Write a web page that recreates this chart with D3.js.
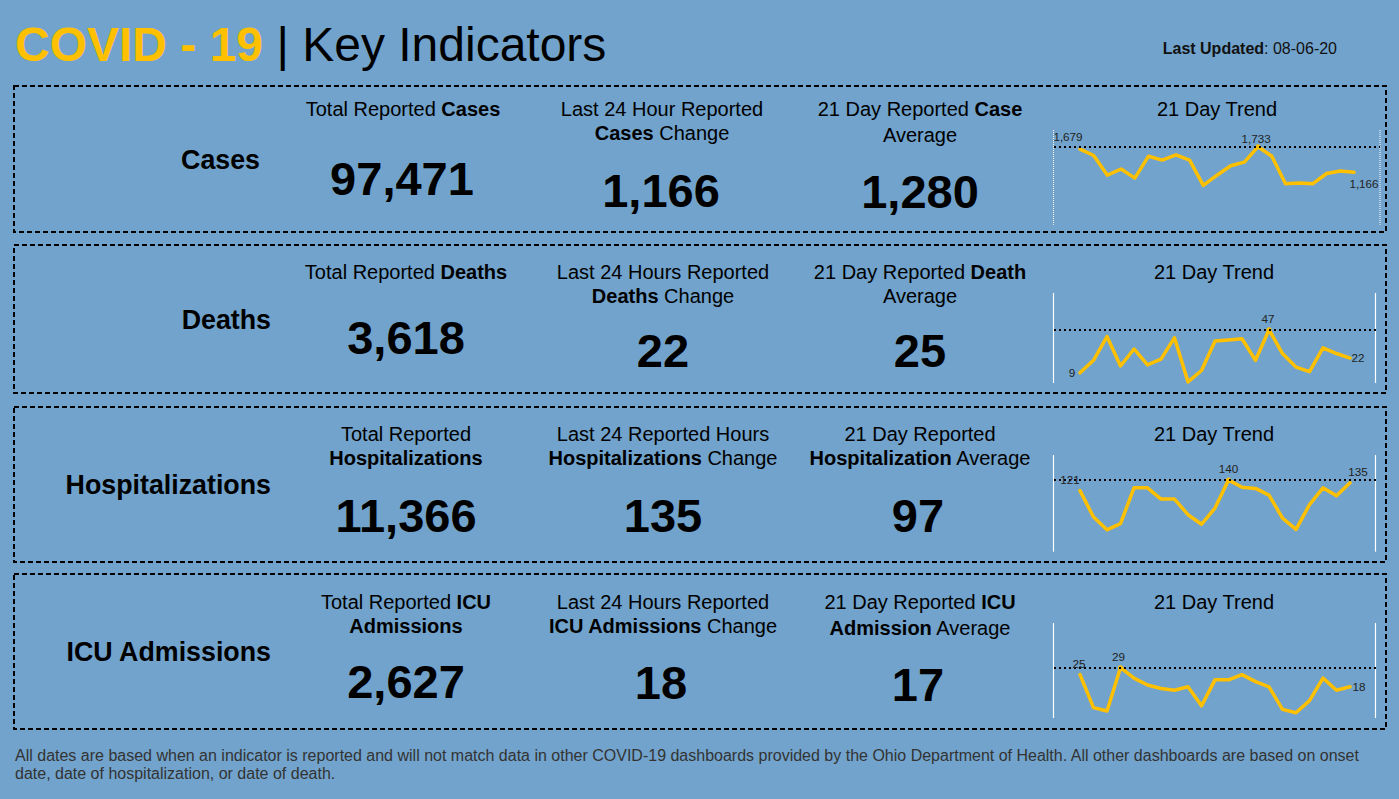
<!DOCTYPE html>
<html>
<head>
<meta charset="utf-8">
<script src="https://cdnjs.cloudflare.com/ajax/libs/d3/7.8.5/d3.min.js"></script>
<style>
html,body{margin:0;padding:0;background:#71a3cc;overflow:hidden}
svg{display:block;font-family:"Liberation Sans",Arial,sans-serif}
</style>
</head>
<body>
<svg id="c" width="1399" height="799"></svg>
<script>
const indicators = ["Cases","Deaths","Hospitalizations","ICU Admissions"];
const totals = ["97,471","3,618","11,366","2,627"];
const changes = ["1,166","22","135","18"];
const averages = ["1,280","25","97","17"];
const casesTrend = [1679,1537,1100,1238,1035,1522,1435,1551,1435,875,1100,1311,1391,1733,1522,911,926,911,1137,1195,1166];
const deathsTrend = [9,20,41,15,30,16,21,40,1,11,37,38,39,20,47,26,14,10,31,26,22];
const hospTrend = [121,74,51,62,126,126,106,106,78,61,90,140,127,125,113,72,52,96,126,112,135];
const icuTrend = [25,6,4,29,23,19,17,16,18,7,22,22,25,21,18,5,3,10,23,16,18];
const trends = [casesTrend,deathsTrend,hospTrend,icuTrend];
// heading lines: [text, bold] runs
const col1Text = [
  [[["Total Reported ",0],["Cases",1]]],
  [[["Total Reported ",0],["Deaths",1]]],
  [[["Total Reported",0]],[["Hospitalizations",1]]],
  [[["Total Reported ",0],["ICU",1]],[["Admissions",1]]]
];
const col2Text = [
  [[["Last 24 Hour Reported",0]],[["Cases",1],[" Change",0]]],
  [[["Last 24 Hours Reported",0]],[["Deaths",1],[" Change",0]]],
  [[["Last 24 Reported Hours",0]],[["Hospitalizations",1],[" Change",0]]],
  [[["Last 24 Hours Reported",0]],[["ICU Admissions",1],[" Change",0]]]
];
const col3Text = [
  [[["21 Day Reported ",0],["Case",1]],[["Average",0]]],
  [[["21 Day Reported ",0],["Death",1]],[["Average",0]]],
  [[["21 Day Reported",0]],[["Hospitalization",1],[" Average",0]]],
  [[["21 Day Reported ",0],["ICU",1]],[["Admission",1],[" Average",0]]]
];
const footerLines = [
  "All dates are based when an indicator is reported and will not match data in other COVID-19 dashboards provided by the Ohio Department of Health. All other dashboards are based on onset",
  "date, date of hospitalization, or date of death."
];

const gold = "#ffc000";
const layout = [
 {box:[86,232], label:[260,169], c1:[403,116,26,402,195], c2:[662,116,24,661,207], c3:[920,116,26,920,208], trend:[1217,116],
  frame:[1053.5,1380,130,224.7,146.7], lo:0, xr:[1080,1354], dotted:true,
  marks:[[0,-12,-8],[13,-2,-4],[20,10,16]]},
 {box:[245,393], label:[271,329], c1:[406,279,24,406,354], c2:[663,279,24,663,367], c3:[920,279,24,920,367], trend:[1214,279],
  frame:[1053.5,1375.5,293,383,329.7], lo:0, xr:[1080,1350], dotted:false,
  marks:[[0,-8,4],[14,-1,-7],[20,8,4]]},
 {box:[407,562], label:[271,494], c1:[406,441,24,406,532], c2:[663,441,24,663,532], c3:[920,441,24,918,532], trend:[1214,441],
  frame:[1053.5,1375.5,455,551.7,480], lo:12, xr:[1080,1350], dotted:false,
  marks:[[0,-10,-7],[11,0,-7],[20,8,-7]]},
 {box:[574,729], label:[271,661], c1:[406,609,24,406,698], c2:[663,609,24,661,699], c3:[920,609,26,918,701], trend:[1214,609],
  frame:[1053.5,1375.5,623,718,667.7], lo:0, xr:[1080,1350], dotted:false,
  marks:[[0,-1,-7],[3,-2,-7],[20,9,4]]}
];

const svg = d3.select("#c");
const W = 1399;
svg.append("rect").attr("width",W).attr("height",799).attr("fill","#71a3cc");

const title = svg.append("text").attr("x",15).attr("y",61).attr("font-size",48);
title.append("tspan").attr("font-weight","bold").attr("fill",gold).text("COVID - 19");
title.append("tspan").attr("fill","#000").style("white-space","pre").text(" | Key Indicators");

const upd = svg.append("text").attr("x",1337).attr("y",54).attr("text-anchor","end").attr("font-size",16).attr("fill","#111");
upd.append("tspan").attr("font-weight","bold").text("Last Updated");
upd.append("tspan").text(": 08-06-20");

function heading(g, lines, cx, y0, dy){
  lines.forEach((runs,i)=>{
    const t = g.append("text").attr("x",cx).attr("y",y0+i*dy).attr("text-anchor","middle").attr("font-size",20).attr("fill","#000");
    runs.forEach(r=>t.append("tspan").attr("font-weight",r[1]?"bold":"normal").style("white-space","pre").text(r[0]));
  });
}
function bigNum(g, s, cx, y){
  g.append("text").attr("x",cx).attr("y",y).attr("text-anchor","middle").attr("font-size",47).attr("font-weight","bold").attr("fill","#000").text(s);
}

layout.forEach((L,k)=>{
  const g = svg.append("g");
  g.append("rect").attr("x",14).attr("y",L.box[0]).attr("width",1372).attr("height",L.box[1]-L.box[0])
    .attr("fill","none").attr("stroke","#000").attr("stroke-width",2).attr("stroke-dasharray","5 3");
  g.append("text").attr("x",L.label[0]).attr("y",L.label[1]).attr("text-anchor","end").attr("font-size",26.8).attr("font-weight","bold").attr("fill","#000").text(indicators[k]);
  heading(g,col1Text[k],L.c1[0],L.c1[1],L.c1[2]); bigNum(g,totals[k],L.c1[3],L.c1[4]);
  heading(g,col2Text[k],L.c2[0],L.c2[1],L.c2[2]); bigNum(g,changes[k],L.c2[3],L.c2[4]);
  heading(g,col3Text[k],L.c3[0],L.c3[1],L.c3[2]); bigNum(g,averages[k],L.c3[3],L.c3[4]);
  g.append("text").attr("x",L.trend[0]).attr("y",L.trend[1]).attr("text-anchor","middle").attr("font-size",20).attr("fill","#000").text("21 Day Trend");

  const [fl,fr,ft,fb,fm] = L.frame;
  const data = trends[k];
  const maxV = d3.max(data);
  const x = d3.scaleLinear().domain([0,data.length-1]).range(L.xr);
  const y = d3.scaleLinear().domain([L.lo,maxV]).range([fb,fm]);

  [fl,fr].forEach(px=>{
    g.append("line").attr("x1",px).attr("x2",px).attr("y1",ft).attr("y2",fb)
      .attr("stroke","#fff").attr("stroke-width",L.dotted?1:1.2).attr("stroke-dasharray",L.dotted?"1 1":null);
  });
  g.append("path").datum(data)
    .attr("d",d3.line().x((d,i)=>x(i)).y(d=>y(d)))
    .attr("fill","none").attr("stroke",gold).attr("stroke-width",3.5).attr("stroke-linejoin","round").attr("stroke-linecap","round");
  const mi = data.indexOf(maxV);
  g.append("circle").attr("cx",x(mi)).attr("cy",y(maxV)).attr("r",2.5).attr("fill",gold);
  g.append("line").attr("x1",fl).attr("x2",fr).attr("y1",y(maxV)).attr("y2",y(maxV))
    .attr("stroke","#000").attr("stroke-width",2).attr("stroke-dasharray","2 3").attr("shape-rendering","crispEdges");
  L.marks.forEach(m=>{
    const [i,dx,dy] = m;
    g.append("text").attr("x",x(i)+dx).attr("y",y(data[i])+dy).attr("text-anchor","middle")
      .attr("font-size",11.7).attr("fill","#222").text(d3.format(",")(data[i]));
  });
});

footerLines.forEach((s,i)=>{
  svg.append("text").attr("x",15).attr("y",761+i*18).attr("font-size",16).attr("fill","#333").text(s);
});
</script>
</body>
</html>
